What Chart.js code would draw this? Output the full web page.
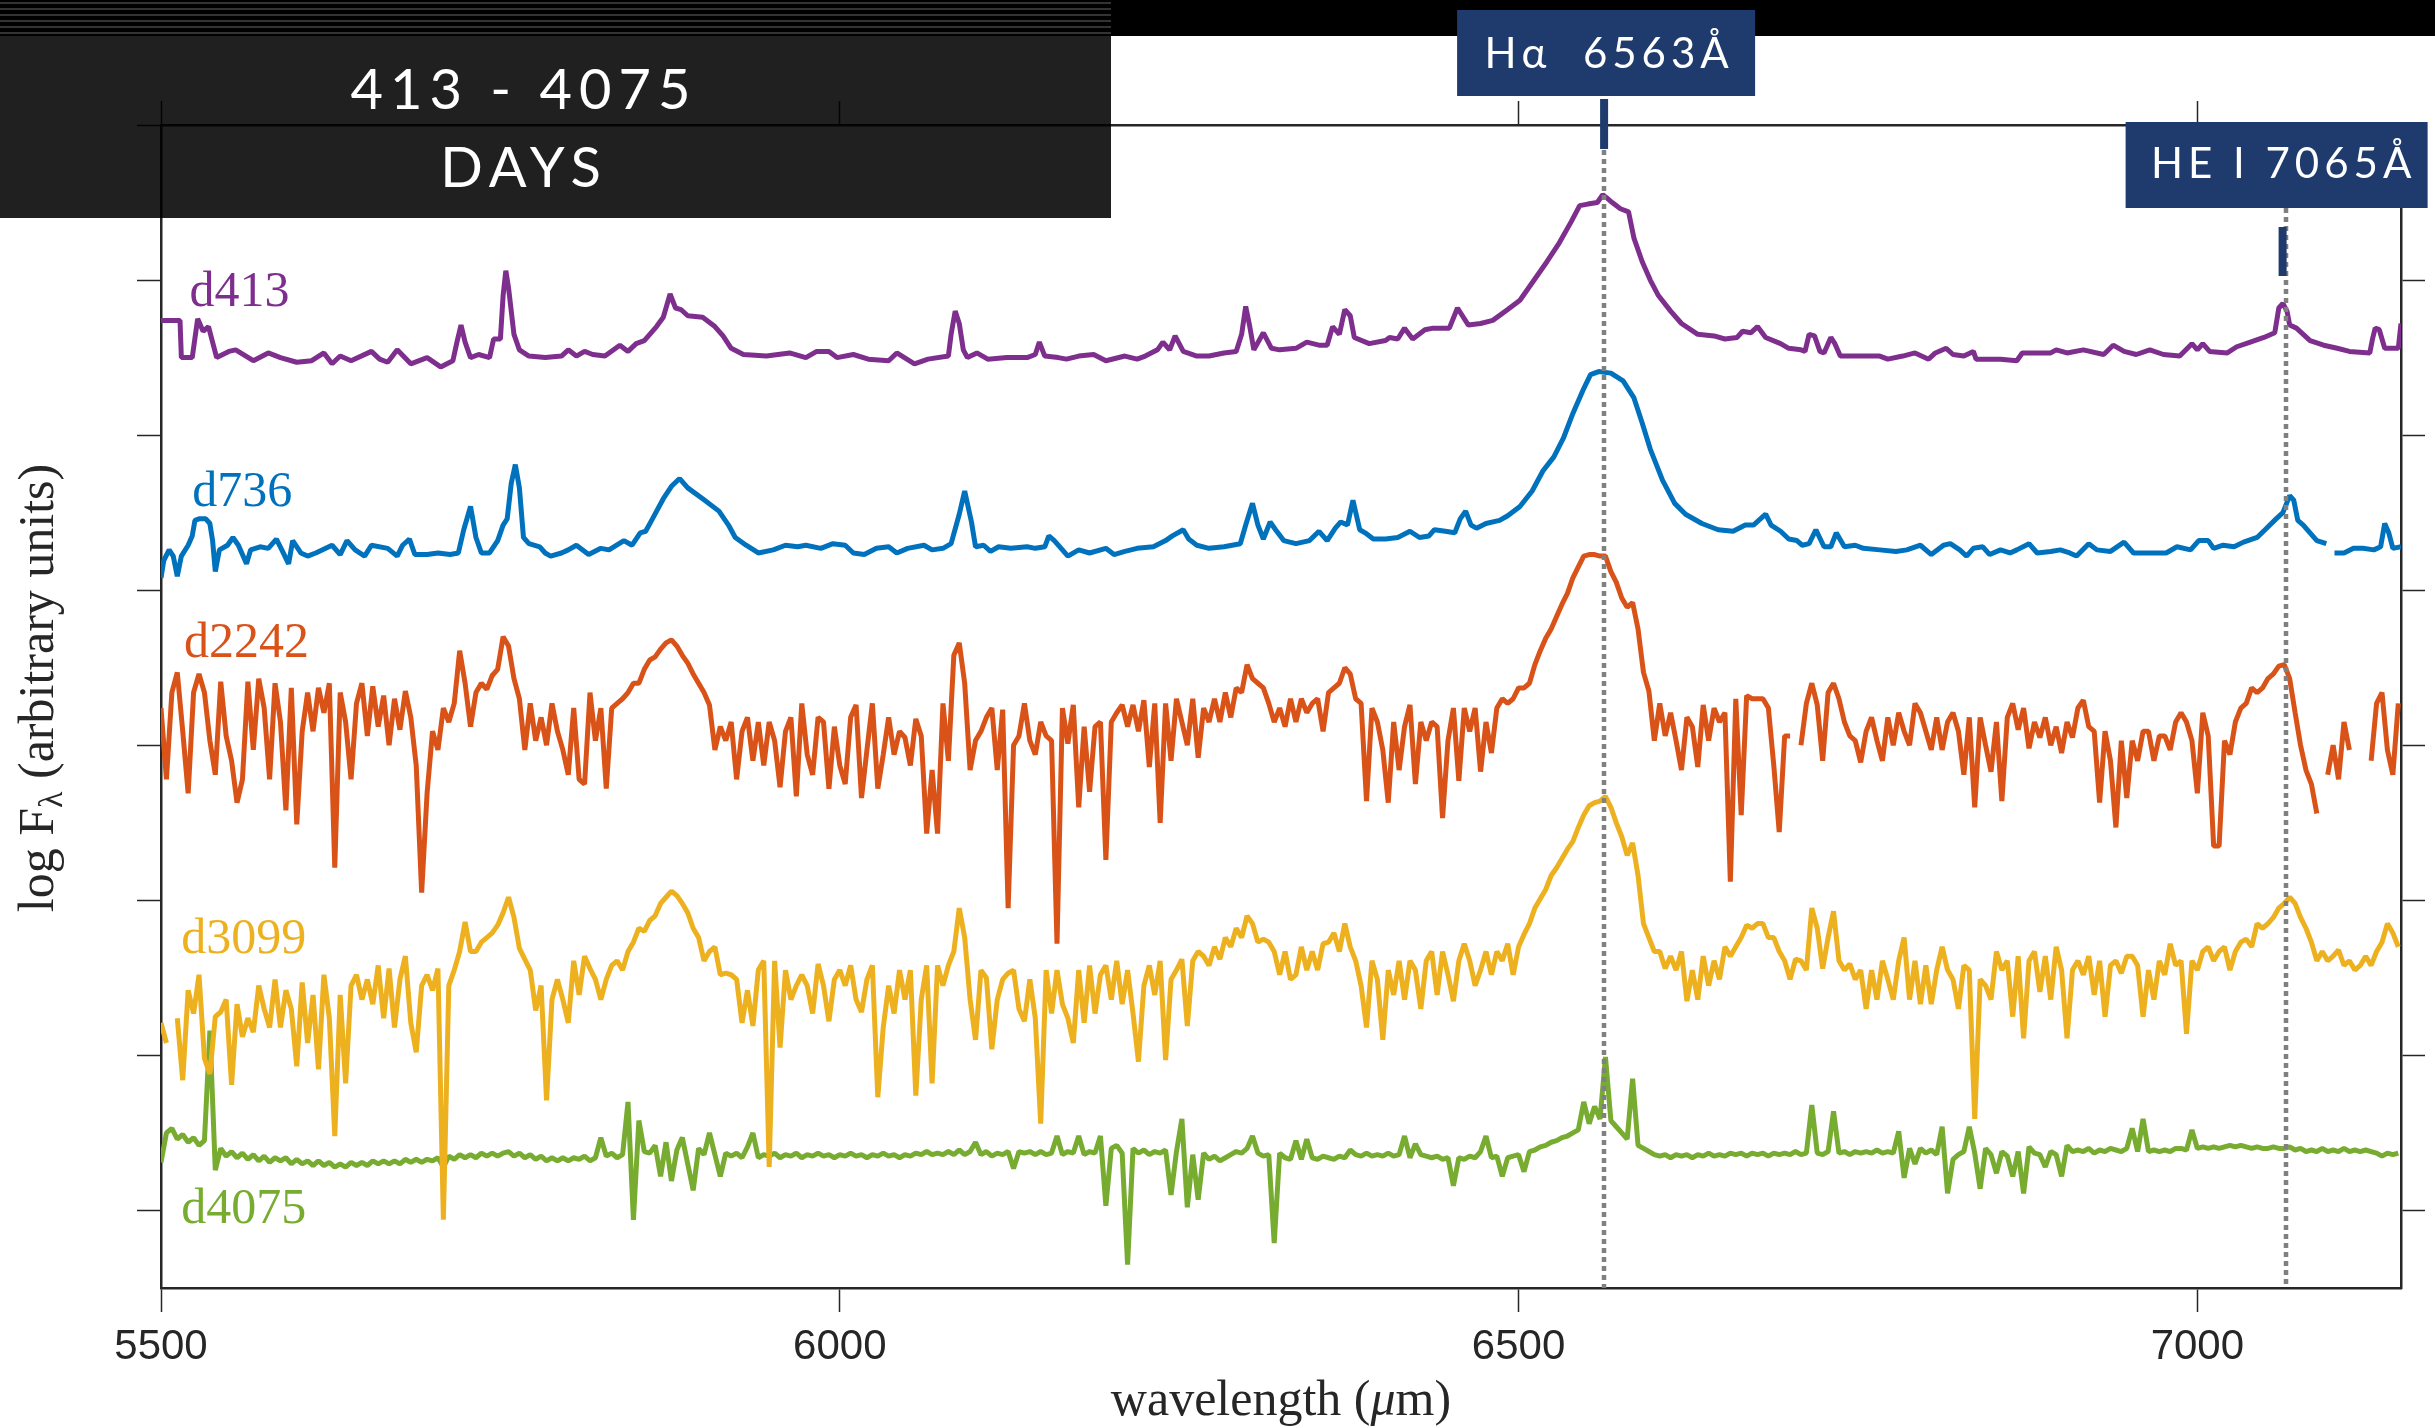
<!DOCTYPE html>
<html>
<head>
<meta charset="utf-8">
<title>Spectra, 413 - 4075 days</title>
<script src="https://cdn.jsdelivr.net/npm/chart.js@4.4.1/dist/chart.umd.min.js"></script>
<style>
  html, body { margin: 0; padding: 0; background: #fff; }
  canvas { display: block; }
</style>
</head>
<body>
<canvas id="spectra" width="2435" height="1427"></canvas>
<script>
const seriesNames = ['d413', 'd736', 'd2242', 'd3099', 'd4075'];
const seriesColors = ['#7e2f8e', '#0072bd', '#d95319', '#edb120', '#77ac30'];

const xTicks = [5500, 6000, 6500, 7000];
const yTicks = [0, 1, 2, 3, 4, 5, 6, 7];

// marked lines (Angstrom) and their captions
const lineWave = [6563, 7065];
const lineNames = ['H\u03b1  6563\u00c5', 'HE I 7065\u00c5'];

// d413 and d736: wavelength / log flux pairs
const d413Wave = [
  5500, 5514, 5515, 5523, 5527, 5531, 5535, 5541, 5550, 5555, 5568, 5579,
  5588, 5600, 5611, 5620, 5626, 5632, 5640, 5655, 5661, 5667, 5674, 5684,
  5696, 5706, 5715, 5718, 5721, 5724, 5728, 5734, 5742, 5745, 5750, 5752,
  5754, 5756, 5760, 5764, 5771, 5783, 5795, 5800, 5806, 5812, 5818, 5827,
  5838, 5844, 5850, 5856, 5865, 5870, 5875, 5879, 5883, 5888, 5899, 5908,
  5914, 5920, 5929, 5946, 5963, 5975, 5983, 5992, 5998, 6010, 6021, 6036,
  6042, 6055, 6065, 6080, 6082, 6085, 6088, 6091, 6094, 6101, 6109, 6123,
  6138, 6144, 6147, 6151, 6161, 6167, 6176, 6187, 6196, 6210, 6219, 6225,
  6234, 6238, 6243, 6247, 6253, 6263, 6272, 6283, 6292, 6296, 6299, 6302,
  6305, 6312, 6318, 6324, 6336, 6344, 6353, 6359, 6363, 6368, 6372, 6376,
  6379, 6390, 6402, 6405, 6411, 6416, 6422, 6431, 6437, 6449, 6455, 6463,
  6472, 6481, 6492, 6501, 6513, 6521, 6530, 6539, 6545, 6551, 6558, 6562,
  6565, 6569, 6575, 6581, 6585, 6591, 6597, 6603, 6612, 6620, 6632, 6644,
  6652, 6661, 6665, 6671, 6676, 6682, 6693, 6699, 6708, 6711, 6714, 6718,
  6722, 6725, 6730, 6733, 6737, 6754, 6766, 6772, 6783, 6792, 6802, 6807,
  6815, 6820, 6828, 6835, 6837, 6855, 6867, 6871, 6892, 6896, 6904, 6916,
  6931, 6938, 6946, 6955, 6965, 6975, 6987, 6996, 7000, 7004, 7009, 7022,
  7029, 7039, 7049, 7057, 7060, 7063, 7066, 7068, 7073, 7083, 7093, 7103,
  7112, 7127, 7129, 7131, 7134, 7138, 7148, 7150
];
const d413Flux = [
  5.74, 5.74, 5.50, 5.50, 5.75, 5.67, 5.70, 5.50, 5.54, 5.55, 5.48, 5.53,
  5.50, 5.47, 5.48, 5.53, 5.46, 5.51, 5.48, 5.54, 5.49, 5.47, 5.55, 5.46,
  5.50, 5.44, 5.48, 5.60, 5.71, 5.60, 5.50, 5.52, 5.50, 5.62, 5.62, 5.90,
  6.06, 5.95, 5.65, 5.55, 5.51, 5.50, 5.51, 5.55, 5.51, 5.54, 5.52, 5.51,
  5.58, 5.54, 5.59, 5.61, 5.70, 5.76, 5.91, 5.82, 5.81, 5.77, 5.76, 5.70,
  5.64, 5.56, 5.52, 5.51, 5.53, 5.50, 5.54, 5.54, 5.50, 5.52, 5.49, 5.48,
  5.53, 5.46, 5.49, 5.51, 5.65, 5.80, 5.72, 5.55, 5.50, 5.53, 5.49, 5.50,
  5.50, 5.52, 5.60, 5.51, 5.50, 5.49, 5.51, 5.52, 5.48, 5.51, 5.49, 5.51,
  5.55, 5.60, 5.55, 5.64, 5.54, 5.51, 5.51, 5.53, 5.54, 5.65, 5.83, 5.70,
  5.55, 5.66, 5.56, 5.55, 5.56, 5.60, 5.58, 5.58, 5.70, 5.65, 5.81, 5.77,
  5.63, 5.59, 5.61, 5.63, 5.62, 5.69, 5.62, 5.68, 5.69, 5.69, 5.82, 5.71,
  5.72, 5.74, 5.81, 5.87, 6.02, 6.12, 6.24, 6.38, 6.48, 6.49, 6.50, 6.55,
  6.53, 6.50, 6.46, 6.44, 6.27, 6.12, 6.00, 5.90, 5.80, 5.72, 5.65, 5.64,
  5.62, 5.63, 5.67, 5.66, 5.70, 5.63, 5.59, 5.56, 5.55, 5.54, 5.65, 5.64,
  5.54, 5.53, 5.63, 5.59, 5.51, 5.51, 5.51, 5.49, 5.51, 5.53, 5.49, 5.53,
  5.56, 5.52, 5.51, 5.54, 5.49, 5.49, 5.48, 5.53, 5.53, 5.55, 5.53, 5.55,
  5.52, 5.58, 5.54, 5.52, 5.55, 5.52, 5.51, 5.59, 5.55, 5.59, 5.54, 5.53,
  5.57, 5.60, 5.63, 5.66, 5.82, 5.85, 5.80, 5.71, 5.69, 5.61, 5.58, 5.56,
  5.54, 5.53, 5.62, 5.69, 5.68, 5.56, 5.56, 5.72
];

const d736Wave = [
  5500, 5502, 5506, 5509, 5512, 5515, 5520, 5523, 5525, 5528, 5533, 5536,
  5538, 5540, 5543, 5549, 5553, 5557, 5563, 5566, 5573, 5579, 5585, 5589,
  5594, 5597, 5603, 5608, 5614, 5626, 5632, 5637, 5643, 5650, 5655, 5667,
  5674, 5678, 5683, 5687, 5696, 5704, 5713, 5719, 5723, 5728, 5732, 5736,
  5742, 5748, 5752, 5755, 5758, 5761, 5764, 5767, 5771, 5779, 5783, 5787,
  5795, 5800, 5806, 5815, 5824, 5830, 5841, 5847, 5853, 5857, 5862, 5870,
  5876, 5882, 5888, 5899, 5911, 5918, 5923, 5931, 5940, 5951, 5960, 5969,
  5975, 5986, 5995, 6004, 6010, 6018, 6027, 6036, 6042, 6050, 6062, 6068,
  6076, 6082, 6088, 6092, 6097, 6100, 6106, 6111, 6117, 6126, 6138, 6144,
  6151, 6154, 6158, 6164, 6168, 6176, 6184, 6196, 6202, 6210, 6219, 6231,
  6240, 6245, 6253, 6257, 6263, 6272, 6283, 6295, 6299, 6304, 6308, 6312,
  6317, 6321, 6327, 6336, 6346, 6353, 6359, 6365, 6369, 6374, 6378, 6383,
  6387, 6393, 6402, 6411, 6420, 6427, 6434, 6438, 6446, 6453, 6457, 6461,
  6465, 6469, 6476, 6486, 6492, 6501, 6510, 6518, 6526, 6533, 6540, 6548,
  6553, 6559, 6568, 6577, 6585, 6591, 6597, 6606, 6615, 6623, 6635, 6647,
  6658, 6667, 6673, 6682, 6686, 6693, 6699, 6705, 6709, 6714, 6719, 6725,
  6730, 6734, 6740, 6748, 6754, 6766, 6778, 6786, 6796, 6804, 6813, 6818,
  6825, 6830, 6835, 6842, 6847, 6855, 6862, 6867, 6876, 6882, 6892, 6899,
  6906, 6911, 6920, 6926, 6936, 6946, 6953, 6965, 6977, 6985, 6995, 7001,
  7008, 7012, 7019, 7027, 7034, 7044, 7051, 7058, 7063, 7068, 7071, 7074,
  7078, 7083, 7088, 7095, 7098, 7101, 7108, 7115, 7122, 7130, 7135, 7138,
  7141, 7144, 7150
];
const d736Flux = [
  4.08, 4.19, 4.26, 4.22, 4.09, 4.22, 4.29, 4.35, 4.45, 4.46, 4.46, 4.43,
  4.32, 4.12, 4.26, 4.29, 4.34, 4.29, 4.17, 4.26, 4.28, 4.27, 4.33, 4.26,
  4.17, 4.32, 4.24, 4.22, 4.24, 4.29, 4.23, 4.32, 4.26, 4.22, 4.29, 4.27,
  4.22, 4.29, 4.33, 4.23, 4.23, 4.24, 4.23, 4.24, 4.39, 4.54, 4.34, 4.24,
  4.24, 4.32, 4.42, 4.46, 4.69, 4.81, 4.66, 4.34, 4.30, 4.28, 4.24, 4.22,
  4.24, 4.26, 4.29, 4.23, 4.27, 4.26, 4.32, 4.29, 4.37, 4.38, 4.46, 4.59,
  4.67, 4.72, 4.66, 4.59, 4.51, 4.42, 4.34, 4.29, 4.24, 4.26, 4.29, 4.28,
  4.29, 4.27, 4.30, 4.29, 4.24, 4.23, 4.27, 4.28, 4.24, 4.27, 4.29, 4.26,
  4.27, 4.30, 4.49, 4.64, 4.44, 4.28, 4.29, 4.25, 4.28, 4.27, 4.28, 4.27,
  4.28, 4.35, 4.32, 4.26, 4.22, 4.26, 4.24, 4.27, 4.23, 4.25, 4.27, 4.28,
  4.32, 4.35, 4.39, 4.33, 4.29, 4.27, 4.28, 4.30, 4.42, 4.56, 4.42, 4.33,
  4.44, 4.39, 4.32, 4.30, 4.32, 4.38, 4.32, 4.40, 4.44, 4.42, 4.58, 4.39,
  4.37, 4.33, 4.33, 4.34, 4.38, 4.34, 4.35, 4.39, 4.38, 4.37, 4.46, 4.51,
  4.42, 4.40, 4.43, 4.45, 4.48, 4.54, 4.64, 4.77, 4.86, 4.98, 5.14, 5.30,
  5.39, 5.41, 5.40, 5.35, 5.24, 5.08, 4.91, 4.71, 4.56, 4.49, 4.43, 4.39,
  4.38, 4.42, 4.42, 4.49, 4.42, 4.38, 4.33, 4.32, 4.29, 4.30, 4.39, 4.28,
  4.28, 4.37, 4.28, 4.29, 4.27, 4.26, 4.25, 4.26, 4.29, 4.23, 4.29, 4.30,
  4.26, 4.22, 4.27, 4.28, 4.23, 4.26, 4.24, 4.26, 4.30, 4.24, 4.25, 4.26,
  4.24, 4.22, 4.30, 4.26, 4.25, 4.31, 4.24, 4.24, 4.24, 4.28, 4.26, 4.32,
  4.32, 4.27, 4.29, 4.28, 4.31, 4.34, 4.40, 4.46, 4.50, 4.61, 4.58, 4.45,
  4.42, 4.37, 4.32, 4.30, null, 4.24, 4.24, 4.27, 4.27, 4.26, 4.28, 4.43,
  4.37, 4.27, 4.28
];

// d2242, d3099, d4075: sampled every 4 A from 5500 A, one row = 64 A
const d2242Flux = [
  3.24, 2.78, 3.34, 3.47, 3.09, 2.69, 3.34, 3.46, 3.34, 3.03, 2.81, 3.41, 3.06, 2.90, 2.63, 2.78, // 5500
  3.41, 2.97, 3.43, 3.24, 2.78, 3.40, 3.15, 2.58, 3.37, 2.49, 3.09, 3.34, 3.09, 3.37, 3.21, 3.40, // 5564
  2.21, 3.34, 3.15, 2.78, 3.27, 3.40, 3.06, 3.38, 3.12, 3.32, 3.00, 3.30, 3.10, 3.35, 3.18, 2.87, // 5628
  2.05, 2.69, 3.09, 2.97, 3.24, 3.15, 3.27, 3.61, 3.40, 3.12, 3.34, 3.40, 3.36, 3.45, 3.49, 3.70, // 5692
  3.64, 3.43, 3.30, 2.97, 3.27, 3.03, 3.18, 3.00, 3.27, 3.09, 2.97, 2.81, 3.24, 2.78, 2.75, 3.34, // 5756
  3.03, 3.24, 2.72, 3.24, 3.27, 3.30, 3.34, 3.40, 3.40, 3.49, 3.55, 3.57, 3.62, 3.66, 3.68, 3.64, // 5820
  3.58, 3.53, 3.46, 3.40, 3.34, 3.26, 2.97, 3.12, 3.03, 3.15, 2.78, 3.09, 3.18, 2.90, 3.15, 2.87, // 5884
  3.15, 3.03, 2.73, 3.09, 3.18, 2.67, 3.27, 2.94, 2.81, 3.18, 3.15, 2.72, 3.12, 2.87, 2.75, 3.18, // 5948
  3.26, 2.66, 2.97, 3.27, 2.72, 2.94, 3.18, 2.94, 3.09, 3.05, 2.87, 3.17, 3.06, 2.43, 2.84, 2.43, // 6012
  3.27, 2.90, 3.58, 3.66, 3.40, 2.84, 3.03, 3.09, 3.18, 3.24, 2.84, 3.23, 1.95, 3.00, 3.06, 3.27, // 6076
  3.03, 2.94, 3.15, 3.06, 3.03, 1.72, 3.24, 3.01, 3.26, 2.60, 3.12, 2.70, 3.12, 3.15, 2.26, 3.15, // 6140
  3.21, 3.26, 3.12, 3.26, 3.09, 3.29, 2.86, 3.27, 2.50, 3.27, 2.90, 3.30, 3.15, 3.00, 3.30, 2.92, // 6204
  3.24, 3.15, 3.30, 3.15, 3.34, 3.18, 3.37, 3.34, 3.52, 3.43, 3.40, 3.37, 3.27, 3.15, 3.24, 3.12, // 6268
  3.30, 3.15, 3.30, 3.21, 3.27, 3.30, 3.09, 3.34, 3.37, 3.40, 3.50, 3.46, 3.30, 3.27, 2.64, 3.24, // 6332
  3.15, 2.97, 2.63, 3.15, 2.84, 3.12, 3.26, 2.75, 3.15, 3.03, 3.15, 3.12, 2.53, 3.03, 3.24, 2.77, // 6396
  3.24, 3.09, 3.24, 2.83, 3.15, 2.95, 3.24, 3.30, 3.27, 3.30, 3.37, 3.37, 3.40, 3.52, 3.61, 3.69, // 6460
  3.75, 3.83, 3.91, 3.98, 4.08, 4.15, 4.22, 4.23, 4.23, 4.22, 4.22, 4.12, 4.05, 3.95, 3.89, 3.92, // 6524
  3.75, 3.47, 3.35, 3.03, 3.27, 3.06, 3.21, 3.03, 2.84, 3.18, 3.12, 2.86, 3.26, 3.03, 3.24, 3.15, // 6588
  3.21, 2.12, 3.30, 2.55, 3.32, 3.30, 3.30, 3.30, 3.24, 2.87, 2.44, 3.06, 3.06, null, 3.00, 3.27, // 6652
  3.40, 3.26, 2.90, 3.34, 3.40, 3.30, 3.15, 3.06, 3.03, 2.89, 3.09, 3.18, 3.03, 2.90, 3.18, 3.00, // 6716
  3.21, 3.09, 3.00, 3.27, 3.21, 3.09, 2.97, 3.18, 2.97, 3.15, 3.21, 3.09, 2.81, 3.18, 2.60, 3.18, // 6780
  3.00, 2.83, 3.15, 2.64, 3.18, 3.27, 3.10, 3.24, 2.98, 3.15, 3.05, 3.18, 3.00, 3.12, 2.95, 3.15, // 6844
  3.05, 3.24, 3.29, 3.12, 3.09, 2.63, 3.09, 2.90, 2.47, 3.03, 2.66, 3.03, 2.90, 3.09, 3.09, 2.90, // 6908
  3.06, 3.06, 2.97, 3.15, 3.21, 3.15, 3.03, 2.69, 3.21, 3.06, 2.35, 2.35, 3.03, 2.94, 3.15, 3.24, // 6972
  3.27, 3.37, 3.34, 3.37, 3.43, 3.46, 3.51, 3.52, 3.43, 3.21, 3.00, 2.84, 2.75, 2.56, null, 2.81, // 7036
  3.00, 2.78, 3.15, 2.97, null, null, null, 2.90, 3.27, 3.34, 2.97, 2.81, 3.27                    // 7100
];

const d3099Flux = [
  1.21, 1.08, null, 1.24, 0.84, 1.42, 1.27, 1.52, 0.98, 0.88, 1.25, 1.28, 1.36, 0.81, 1.33, 1.12, // 5500
  1.24, 1.15, 1.45, 1.30, 1.18, 1.49, 1.18, 1.42, 1.30, 0.93, 1.47, 1.08, 1.39, 0.91, 1.52, 1.24, // 5564
  0.48, 1.39, 0.82, 1.45, 1.52, 1.36, 1.49, 1.33, 1.58, 1.24, 1.56, 1.18, 1.49, 1.64, 1.21, 1.02, // 5628
  1.45, 1.52, 1.42, 1.56, -0.06, 1.45, 1.55, 1.67, 1.86, 1.67, 1.67, 1.73, 1.76, 1.79, 1.84, 1.92, // 5692
  2.02, 1.89, 1.69, 1.62, 1.55, 1.29, 1.45, 0.71, 1.36, 1.49, 1.36, 1.21, 1.61, 1.39, 1.64, 1.56, // 5756
  1.49, 1.36, 1.49, 1.58, 1.61, 1.55, 1.67, 1.73, 1.82, 1.80, 1.87, 1.90, 1.98, 2.02, 2.06, 2.03, // 5820
  1.98, 1.92, 1.82, 1.76, 1.61, 1.67, 1.70, 1.52, 1.53, 1.52, 1.49, 1.21, 1.42, 1.19, 1.55, 1.61, // 5884
  0.28, 1.61, 1.05, 1.55, 1.36, 1.45, 1.52, 1.45, 1.27, 1.59, 1.45, 1.22, 1.49, 1.55, 1.45, 1.58, // 5948
  1.36, 1.28, 1.49, 1.58, 0.73, 1.18, 1.45, 1.27, 1.55, 1.36, 1.55, 0.74, 1.36, 1.58, 0.82, 1.58, // 6012
  1.45, 1.58, 1.67, 1.95, 1.76, 1.36, 1.10, 1.55, 1.50, 1.04, 1.36, 1.49, 1.53, 1.55, 1.30, 1.22, // 6076
  1.49, 1.24, 0.56, 1.55, 1.27, 1.55, 1.33, 1.24, 1.08, 1.55, 1.21, 1.58, 1.27, 1.52, 1.58, 1.36, // 6140
  1.61, 1.33, 1.55, 1.27, 0.96, 1.45, 1.58, 1.39, 1.61, 0.97, 1.49, 1.55, 1.62, 1.19, 1.61, 1.67, // 6204
  1.64, 1.58, 1.70, 1.62, 1.76, 1.70, 1.82, 1.76, 1.90, 1.85, 1.73, 1.75, 1.73, 1.67, 1.52, 1.67, // 6268
  1.49, 1.52, 1.70, 1.55, 1.67, 1.55, 1.72, 1.73, 1.79, 1.67, 1.85, 1.70, 1.61, 1.45, 1.18, 1.61, // 6332
  1.49, 1.10, 1.55, 1.39, 1.61, 1.36, 1.61, 1.55, 1.30, 1.61, 1.67, 1.39, 1.67, 1.52, 1.35, 1.61, // 6396
  1.72, 1.61, 1.45, 1.55, 1.67, 1.52, 1.67, 1.61, 1.72, 1.52, 1.70, 1.78, 1.85, 1.95, 2.01, 2.07, // 6460
  2.16, 2.21, 2.27, 2.33, 2.38, 2.47, 2.55, 2.61, 2.63, 2.64, 2.67, 2.60, 2.50, 2.41, 2.29, 2.37, // 6524
  2.16, 1.85, 1.76, 1.67, 1.67, 1.56, 1.64, 1.55, 1.67, 1.35, 1.55, 1.36, 1.64, 1.45, 1.61, 1.49, // 6588
  1.70, 1.64, 1.70, 1.76, 1.84, 1.82, 1.85, 1.85, 1.76, 1.76, 1.67, 1.61, 1.49, 1.62, 1.61, 1.55, // 6652
  1.95, 1.82, 1.56, 1.76, 1.93, 1.61, 1.55, 1.59, 1.49, 1.55, 1.30, 1.55, 1.36, 1.61, 1.49, 1.36, // 6716
  1.61, 1.76, 1.36, 1.61, 1.33, 1.58, 1.33, 1.55, 1.70, 1.55, 1.49, 1.30, 1.58, 1.55, 0.59, 1.49, // 6780
  1.45, 1.36, 1.67, 1.55, 1.61, 1.25, 1.64, 1.11, 1.61, 1.67, 1.41, 1.64, 1.36, 1.70, 1.55, 1.11, // 6844
  1.55, 1.61, 1.52, 1.64, 1.39, 1.61, 1.25, 1.58, 1.61, 1.53, 1.64, 1.64, 1.58, 1.25, 1.55, 1.36, // 6908
  1.61, 1.52, 1.72, 1.58, 1.61, 1.14, 1.61, 1.55, 1.67, 1.70, 1.61, 1.67, 1.70, 1.55, 1.67, 1.73, // 6972
  1.75, 1.70, 1.85, 1.82, 1.85, 1.89, 1.95, 1.98, 2.02, 1.98, 1.89, 1.82, 1.73, 1.61, 1.67, 1.61, // 7036
  1.64, 1.68, 1.58, 1.61, 1.55, 1.58, 1.64, 1.58, 1.67, 1.73, 1.85, 1.79, 1.70                    // 7100
];

const d4075Flux = [
  0.31, 0.50, 0.53, 0.46, 0.49, 0.44, 0.47, 0.42, 0.45, 1.16, 0.26, 0.40, 0.35, 0.38, 0.34, 0.37, // 5500
  0.33, 0.36, 0.32, 0.35, 0.31, 0.34, 0.32, 0.34, 0.30, 0.33, 0.30, 0.32, 0.29, 0.32, 0.29, 0.31, // 5564
  0.28, 0.30, 0.28, 0.31, 0.29, 0.31, 0.29, 0.32, 0.30, 0.32, 0.30, 0.32, 0.30, 0.33, 0.31, 0.33, // 5628
  0.31, 0.33, 0.32, 0.34, 0.28, 0.35, 0.33, 0.36, 0.34, 0.36, 0.34, 0.37, 0.35, 0.37, 0.35, 0.37, // 5692
  0.38, 0.35, 0.37, 0.34, 0.36, 0.33, 0.35, 0.32, 0.34, 0.32, 0.34, 0.32, 0.34, 0.33, 0.35, 0.32, // 5756
  0.34, 0.47, 0.35, 0.37, 0.34, 0.36, 0.70, -0.06, 0.58, 0.38, 0.37, 0.42, 0.22, 0.44, 0.19, 0.39, // 5820
  0.47, 0.30, 0.13, 0.40, 0.36, 0.50, 0.36, 0.22, 0.37, 0.35, 0.37, 0.34, 0.41, 0.50, 0.34, 0.36, // 5884
  0.35, 0.37, 0.34, 0.36, 0.35, 0.37, 0.34, 0.36, 0.35, 0.37, 0.35, 0.36, 0.34, 0.36, 0.35, 0.37, // 5948
  0.35, 0.36, 0.34, 0.36, 0.35, 0.37, 0.35, 0.36, 0.34, 0.36, 0.35, 0.37, 0.36, 0.38, 0.36, 0.37, // 6012
  0.36, 0.38, 0.36, 0.39, 0.36, 0.38, 0.44, 0.36, 0.38, 0.35, 0.37, 0.36, 0.38, 0.27, 0.38, 0.37, // 6076
  0.38, 0.36, 0.38, 0.36, 0.37, 0.48, 0.36, 0.38, 0.37, 0.48, 0.36, 0.38, 0.37, 0.48, 0.03, 0.40, // 6140
  0.42, 0.37, -0.35, 0.40, 0.37, 0.39, 0.36, 0.38, 0.37, 0.39, 0.10, 0.38, 0.59, 0.02, 0.36, 0.07, // 6204
  0.37, 0.33, 0.35, 0.32, 0.34, 0.36, 0.38, 0.37, 0.40, 0.48, 0.37, 0.35, 0.36, -0.21, 0.37, 0.34, // 6268
  0.33, 0.45, 0.33, 0.46, 0.34, 0.33, 0.35, 0.34, 0.33, 0.35, 0.34, 0.39, 0.36, 0.35, 0.37, 0.35, // 6332
  0.36, 0.35, 0.37, 0.35, 0.36, 0.48, 0.34, 0.43, 0.36, 0.35, 0.34, 0.35, 0.33, 0.34, 0.16, 0.34, // 6396
  0.33, 0.35, 0.34, 0.38, 0.48, 0.34, 0.35, 0.22, 0.34, 0.35, 0.36, 0.25, 0.38, 0.39, 0.41, 0.42, // 6460
  0.44, 0.45, 0.47, 0.48, 0.50, 0.52, 0.70, 0.56, 0.67, 0.59, 0.99, 0.58, 0.54, 0.50, 0.46, 0.85, // 6524
  0.42, 0.40, 0.38, 0.36, 0.35, 0.36, 0.34, 0.36, 0.35, 0.36, 0.34, 0.36, 0.35, 0.37, 0.35, 0.36, // 6588
  0.35, 0.37, 0.36, 0.37, 0.35, 0.37, 0.36, 0.37, 0.35, 0.37, 0.36, 0.37, 0.36, 0.38, 0.36, 0.37, // 6652
  0.68, 0.37, 0.36, 0.38, 0.64, 0.37, 0.38, 0.36, 0.38, 0.37, 0.38, 0.37, 0.39, 0.37, 0.38, 0.37, // 6716
  0.51, 0.21, 0.40, 0.30, 0.40, 0.37, 0.39, 0.36, 0.54, 0.11, 0.33, 0.36, 0.38, 0.54, 0.37, 0.14, // 6780
  0.40, 0.36, 0.24, 0.38, 0.35, 0.22, 0.38, 0.11, 0.41, 0.37, 0.36, 0.28, 0.38, 0.36, 0.22, 0.42, // 6844
  0.38, 0.39, 0.38, 0.40, 0.37, 0.39, 0.38, 0.40, 0.39, 0.38, 0.40, 0.53, 0.38, 0.59, 0.38, 0.39, // 6908
  0.38, 0.39, 0.38, 0.40, 0.40, 0.39, 0.52, 0.40, 0.41, 0.40, 0.41, 0.40, 0.41, 0.42, 0.41, 0.42, // 6972
  0.41, 0.40, 0.41, 0.40, 0.40, 0.41, 0.40, 0.40, 0.41, 0.39, 0.40, 0.38, 0.39, 0.38, 0.40, 0.38, // 7036
  0.39, 0.38, 0.40, 0.38, 0.39, 0.38, 0.39, 0.38, 0.37, 0.35, 0.37, 0.36, 0.37                    // 7100
];

const gridWave = d2242Flux.map((_, i) => 5500 + 4 * i);

function toPoints(wave, flux) {
  return wave.map((w, i) => ({ x: w, y: flux[i] }));
}

const seriesPoints = [
  toPoints(d413Wave, d413Flux),
  toPoints(d736Wave, d736Flux),
  toPoints(gridWave, d2242Flux),
  toPoints(gridWave, d3099Flux),
  toPoints(gridWave, d4075Flux)
];

// where each series name sits: [wavelength, log flux] of the text baseline start
const nameAnchors = [[5521, 5.83], [5523, 4.54], [5517, 3.57], [5515, 1.66], [5515, -0.08]];

const axisInk = '#262626';
const navy = '#1f3b6d';

// dotted guides under the two line markers, and the series names
const guidePlugin = {
  id: 'guides',
  afterDatasetsDraw(chart) {
    const { ctx, chartArea, scales } = chart;
    const tops = [chartArea.top + 25, chartArea.top + 83];
    ctx.save();
    ctx.strokeStyle = '#808080';
    ctx.lineWidth = 4.5;
    ctx.setLineDash([5, 4]);
    lineWave.forEach((w, i) => {
      const px = Math.round(scales.x.getPixelForValue(w));
      ctx.beginPath();
      ctx.moveTo(px, tops[i]);
      ctx.lineTo(px, chartArea.bottom);
      ctx.stroke();
    });
    ctx.restore();

    ctx.save();
    ctx.font = '50px "Liberation Serif"';
    ctx.textAlign = 'left';
    ctx.textBaseline = 'alphabetic';
    seriesNames.forEach((name, i) => {
      ctx.fillStyle = seriesColors[i];
      ctx.fillText(name, scales.x.getPixelForValue(nameAnchors[i][0]), scales.y.getPixelForValue(nameAnchors[i][1]));
    });
    ctx.restore();
  }
};

function drawPieces(ctx, pieces, cx, baseline) {
  const widths = pieces.map(p => { ctx.font = p.font; return ctx.measureText(p.text).width; });
  let x = cx - widths.reduce((a, b) => a + b, 0) / 2;
  pieces.forEach((p, i) => {
    ctx.font = p.font;
    ctx.fillText(p.text, x, baseline + (p.dy || 0));
    x += widths[i];
  });
}

const decorPlugin = {
  id: 'decor',
  afterDraw(chart) {
    const { ctx, chartArea, scales } = chart;
    const W = chart.width;

    // axis titles
    ctx.save();
    ctx.fillStyle = axisInk;
    ctx.textAlign = 'left';
    ctx.textBaseline = 'alphabetic';
    const serif = '50px "Liberation Serif"';
    drawPieces(ctx, [
      { text: 'wavelength (', font: serif },
      { text: '\u03bc', font: 'italic ' + serif },
      { text: 'm)', font: serif }
    ], (chartArea.left + chartArea.right) / 2, 1415);
    ctx.translate(53, 688);
    ctx.rotate(-Math.PI / 2);
    drawPieces(ctx, [
      { text: 'log F', font: serif },
      { text: '\u03bb', font: '34px "Liberation Serif"', dy: 9 },
      { text: ' (arbitrary units)', font: serif }
    ], 0, 0);
    ctx.restore();

    // title banner across the top
    ctx.save();
    ctx.fillStyle = '#000';
    ctx.fillRect(0, 0, W, 36);
    ctx.fillStyle = 'rgba(0,0,0,0.875)';
    ctx.fillRect(0, 36, 1111, 182);
    ctx.fillStyle = '#333';
    for (let y = 2; y < 36; y += 6) ctx.fillRect(0, y, 1111, 2);
    ctx.fillStyle = '#fff';
    ctx.font = '56px Lato';
    ctx.letterSpacing = '7px';
    ctx.textAlign = 'center';
    ctx.textBaseline = 'alphabetic';
    ctx.fillText('413 - 4075', 524, 109);
    ctx.fillText('DAYS', 524, 187);
    ctx.restore();

    // line markers: caption badge plus short navy tick, on top of the banner
    const x0 = scales.x.getPixelForValue(lineWave[0]);
    const x1 = scales.x.getPixelForValue(lineWave[1]);
    ctx.save();
    ctx.fillStyle = navy;
    ctx.fillRect(x0 - 147, 10, 298, 86);
    ctx.fillRect(x0 - 4, 99, 8, 50);
    ctx.fillRect(x1 - 160, 122, 302, 86);
    ctx.fillRect(x1 - 7, 227, 8, 49);
    ctx.fillStyle = '#fff';
    ctx.font = '42px Lato';
    ctx.letterSpacing = '5px';
    ctx.textAlign = 'center';
    ctx.textBaseline = 'alphabetic';
    ctx.fillText(lineNames[0], x0 + 5, 68);
    ctx.fillText(lineNames[1], x1 - 2, 178);
    ctx.restore();
  }
};

function fixTicks(values) {
  return scale => { scale.ticks = values.map(v => ({ value: v })); };
}

const tickGrid = {
  drawOnChartArea: false,
  drawTicks: true,
  tickLength: 24,
  tickWidth: 1.5,
  tickColor: axisInk
};
const axisBorder = { display: true, color: axisInk, width: 2.5 };

function build() {
  new Chart(document.getElementById('spectra'), {
    type: 'line',
    data: {
      datasets: seriesNames.map((name, i) => ({
        label: name,
        data: seriesPoints[i],
        borderColor: seriesColors[i],
        backgroundColor: seriesColors[i],
        borderWidth: 5,
        borderJoinStyle: 'bevel',
        pointRadius: 0,
        tension: 0,
        spanGaps: false,
        fill: false
      }))
    },
    options: {
      responsive: false,
      animation: false,
      devicePixelRatio: 1,
      layout: { padding: 0 },
      plugins: {
        legend: { display: false },
        tooltip: { enabled: false }
      },
      scales: {
        x: {
          type: 'linear',
          position: 'bottom',
          min: 5500,
          max: 7150,
          afterBuildTicks: fixTicks(xTicks),
          afterFit: s => { s.height = 139; },
          ticks: {
            color: axisInk,
            font: { family: 'Liberation Sans', size: 42 },
            padding: 10,
            maxRotation: 0,
            callback: v => String(v)
          },
          grid: tickGrid,
          border: axisBorder
        },
        xTop: {
          type: 'linear',
          position: 'top',
          min: 5500,
          max: 7150,
          afterBuildTicks: fixTicks(xTicks),
          afterFit: s => { s.height = 125; },
          ticks: { display: false },
          grid: tickGrid,
          border: axisBorder
        },
        y: {
          type: 'linear',
          position: 'left',
          min: -0.5,
          max: 7,
          afterBuildTicks: fixTicks(yTicks),
          afterFit: s => { s.width = 161; },
          ticks: { display: false },
          grid: tickGrid,
          border: axisBorder
        },
        yRight: {
          type: 'linear',
          position: 'right',
          min: -0.5,
          max: 7,
          afterBuildTicks: fixTicks(yTicks),
          afterFit: s => { s.width = 34; },
          ticks: { display: false },
          grid: tickGrid,
          border: axisBorder
        }
      }
    },
    plugins: [guidePlugin, decorPlugin]
  });
}

Promise.all([
  '56px Lato', '42px Lato', '50px "Liberation Serif"', 'italic 50px "Liberation Serif"', '42px "Liberation Sans"'
].map(f => document.fonts.load(f))).catch(() => {}).then(build);
</script>
</body>
</html>
